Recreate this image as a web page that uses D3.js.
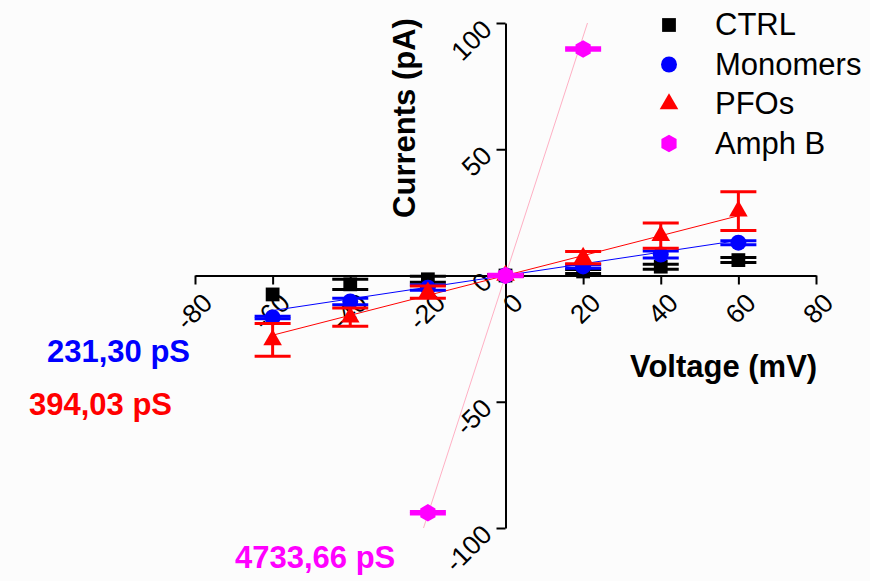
<!DOCTYPE html>
<html>
<head>
<meta charset="utf-8">
<script src="https://cdnjs.cloudflare.com/ajax/libs/d3/7.8.5/d3.min.js"></script>
<style>
  body { margin: 0; background: #fcfcfc; }
  text { font-family: "Liberation Sans", Arial, sans-serif; }
</style>
</head>
<body>
<div class="canvas"></div>
<script>
// values
const voltages = [-60, -40, -20, 0, 20, 40, 60]
const ctrlVals = [-7.5, -3.5, -1.5, 0, 1.6, 3.5, 6.1]
const ctrlErr = [0, 2, 1.2, 0.4, 0.8, 1, 1]
const monoVals = [-16.6, -10.3, -4.8, 0, 3.6, 8.3, 13]
const monoErr = [0.5, 1.3, 1, 0.4, 0.7, 1.4, 0.8]
const pfoVals = [-25.5, -16.5, -6.6, 0, 7.1, 15.8, 25.5]
const pfoErr = [6.5, 3.6, 2.4, 0.4, 2.4, 5, 7.7]
const amphVolts = [-20, 0, 20]
const amphVals = [-94, 0, 89.7]
const amphErr = [0.5, 0.5, 0.5]

const seriesNames = ['CTRL', 'Monomers', 'PFOs', 'Amph B']
const conductances = ['231,30 pS', '394,03 pS', '4733,66 pS']
const slopes = [231.30, 394.03, 4733.66]   // pS -> pA/mV after /1000
const xTicks = [-80, -60, -40, -20, 0, 20, 40, 60, 80]
const yTicks = [-100, -50, 0, 50, 100]

const svg = d3.select('.canvas')
              .append('svg')
              .attr('width', 870)
              .attr('height', 581)

const x = d3.scaleLinear().domain([-80, 80]).range([195, 816])
const y = d3.scaleLinear().domain([-100, 100]).range([528, 23])

const hexagon = {
  draw(ctx, size) {
    const r = Math.sqrt(size / 2.598)
    for (let k = 0; k < 6; k++) {
      const a = Math.PI / 2 + k * Math.PI / 3
      const px = r * Math.cos(a), py = r * Math.sin(a)
      if (k === 0) ctx.moveTo(px, py); else ctx.lineTo(px, py)
    }
    ctx.closePath()
  }
}

const series = [
  {name: seriesNames[0], xs: voltages, vals: ctrlVals, err: ctrlErr, color: '#000000', sym: d3.symbolSquare, size: 190},
  {name: seriesNames[1], xs: voltages, vals: monoVals, err: monoErr, color: '#0000ff', sym: d3.symbolCircle, size: 200},
  {name: seriesNames[2], xs: voltages, vals: pfoVals, err: pfoErr, color: '#ff0000', sym: d3.symbolTriangle, size: 150},
  {name: seriesNames[3], xs: amphVolts, vals: amphVals, err: amphErr, color: '#ff00ff', sym: hexagon, size: 200}
]

// axes crossing at the origin
const xAxis = d3.axisBottom(x).tickValues(xTicks).tickSize(9).tickSizeOuter(0)
const yAxis = d3.axisLeft(y).tickValues(yTicks).tickSize(9).tickSizeOuter(0)

const gx = svg.append('g').attr('transform', `translate(0,${y(0)})`).call(xAxis)
const gy = svg.append('g').attr('transform', `translate(${x(0)},0)`).call(yAxis)

;[gx, gy].forEach(g => {
  g.select('.domain').attr('stroke', '#000').attr('stroke-width', 2)
  g.selectAll('.tick line').attr('stroke', '#000').attr('stroke-width', 2)
  g.selectAll('.tick text').remove()
})

svg.append('g').selectAll('text').data(xTicks).enter()
   .append('text')
   .attr('transform', d => `translate(${x(d) + 19},${y(0) + 29}) rotate(-45)`)
   .attr('text-anchor', 'end')
   .attr('font-size', 26.5)
   .text(d => d)

svg.append('g').selectAll('text').data(yTicks).enter()
   .append('text')
   .attr('transform', d => `translate(${x(0) - 12},${y(d) + 8}) rotate(-45)`)
   .attr('text-anchor', 'end')
   .attr('font-size', 26.5)
   .text(d => d)

// axis titles
svg.append('text')
   .attr('transform', 'translate(415,118) rotate(-90)')
   .attr('text-anchor', 'middle')
   .attr('font-size', 31).attr('font-weight', 'bold')
   .text('Currents (pA)')

svg.append('text')
   .attr('x', 630).attr('y', 377)
   .attr('font-size', 31).attr('font-weight', 'bold')
   .text('Voltage (mV)')

// linear fits (slope = conductance)
const fitLine = d3.line().x(d => x(d[0])).y(d => y(d[1]))
const fitColors = ['#0000ff', '#ff0000', '#ffb0c4']
const fitRanges = [[-60, 60], [-60, 60], [-100 / (slopes[2] / 1000), 100 / (slopes[2] / 1000)]]
slopes.forEach((s, i) => {
  const k = s / 1000
  svg.append('path')
     .attr('d', fitLine(fitRanges[i].map(v => [v, k * v])))
     .attr('fill', 'none')
     .attr('stroke', fitColors[i])
     .attr('stroke-width', 1)
})

// error bars and markers
series.forEach(s => {
  const g = svg.append('g')
  const pts = s.xs.map((v, i) => ({v, val: s.vals[i], e: s.err[i]}))
  const withErr = pts.filter(d => d.e > 0)
  g.selectAll('line.bar').data(withErr).enter()
   .append('line')
   .attr('x1', d => x(d.v)).attr('x2', d => x(d.v))
   .attr('y1', d => y(d.val - d.e)).attr('y2', d => y(d.val + d.e))
   .attr('stroke', s.color).attr('stroke-width', 3)
  ;[1, -1].forEach(sign => {
    g.selectAll(null).data(withErr).enter()
     .append('line')
     .attr('x1', d => x(d.v) - 18).attr('x2', d => x(d.v) + 18)
     .attr('y1', d => y(d.val + sign * d.e)).attr('y2', d => y(d.val + sign * d.e))
     .attr('stroke', s.color).attr('stroke-width', 3)
  })
  g.selectAll('path').data(pts).enter()
   .append('path')
   .attr('d', d3.symbol().type(s.sym).size(s.size))
   .attr('transform', d => `translate(${x(d.v)},${y(d.val)})`)
   .attr('fill', s.color)
})

// legend
const legend = svg.append('g').attr('transform', 'translate(669,25)')
series.forEach((s, i) => {
  legend.append('path')
        .attr('d', d3.symbol().type(s.sym).size(s.size))
        .attr('transform', `translate(0,${i * 39.5})`)
        .attr('fill', s.color)
  legend.append('text')
        .attr('x', 46).attr('y', i * 39.5 + 10)
        .attr('font-size', 31)
        .text(s.name)
})

// conductance labels
const condPos = [[47, 362], [29, 415], [235, 568]]
const condColors = ['#0000ff', '#ff0000', '#ff00ff']
conductances.forEach((c, i) => {
  svg.append('text')
     .attr('x', condPos[i][0]).attr('y', condPos[i][1])
     .attr('font-size', 31).attr('font-weight', 'bold')
     .attr('fill', condColors[i])
     .text(c)
})
</script>
</body>
</html>
